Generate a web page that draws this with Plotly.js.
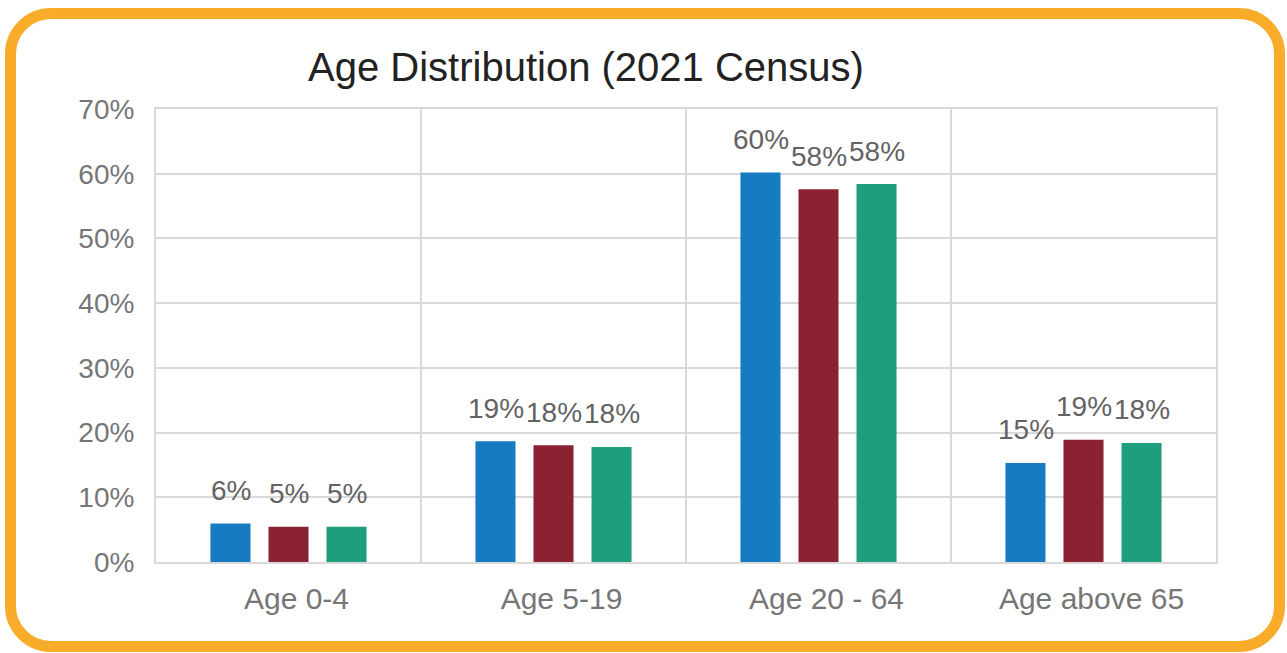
<!DOCTYPE html>
<html>
<head>
<meta charset="utf-8">
<script src="https://cdn.plot.ly/plotly-3.0.1.min.js"></script>
<style>
  body { margin: 0; background: #fff; }
  #chart { position: absolute; left: 0; top: 0; width: 1287px; height: 653px; }
  #frame {
    position: absolute; left: 5px; top: 8px; width: 1280px; height: 644px;
    box-sizing: border-box; border: 11px solid #F9AB2A; border-radius: 46px;
    pointer-events: none;
  }
</style>
</head>
<body>
<div id="chart"></div>
<div id="frame"></div>
<script>
// age groups and the three series (percent of population)
var ageGroups = ['Age 0-4', 'Age 5-19', 'Age 20 - 64', 'Age above 65'];
var seriesA = [5.96, 18.66, 60.2, 15.3];
var seriesB = [5.44, 18.04, 57.6, 18.9];
var seriesC = [5.44, 17.78, 58.4, 18.4];
var seriesColors = ['#167BC0', '#8B2232', '#1F9E7E'];
var yTicks = [0, 10, 20, 30, 40, 50, 60, 70];

var allSeries = [seriesA, seriesB, seriesC];

var data = allSeries.map(function (vals, i) {
    return {
        x: ageGroups,
        y: vals,
        type: 'bar',
        marker: {color: seriesColors[i]},
        hoverinfo: 'none'
    };
});

// data labels sit above each bar, shifted to the bar's slot in the group
var slot = 58;
var annotations = [];
allSeries.forEach(function (vals, i) {
    vals.forEach(function (v, j) {
        annotations.push({
            x: ageGroups[j], y: v, xref: 'x', yref: 'y',
            text: Math.round(v) + '%',
            showarrow: false,
            xshift: (i - 1) * slot,
            yshift: 33,
            yanchor: 'middle',
            font: {size: 28, color: '#636363', family: 'Liberation Sans, Arial, sans-serif'}
        });
    });
});

var layout = {
    width: 1287,
    height: 653,
    margin: {l: 156, r: 71, t: 109, b: 91},
    paper_bgcolor: 'rgba(0,0,0,0)',
    plot_bgcolor: '#fff',
    showlegend: false,
    barmode: 'group',
    bargap: 0.343,
    bargroupgap: 0.31,
    font: {family: 'Liberation Sans, Arial, sans-serif'},
    title: {
        text: 'Age Distribution (2021 Census)',
        font: {size: 40, color: '#222'},
        xref: 'container', yref: 'container',
        x: 0.4553, xanchor: 'center',
        y: 0.898, yanchor: 'middle'
    },
    xaxis: {
        type: 'category',
        tickson: 'boundaries',
        showgrid: true,
        gridcolor: '#d9d9d9',
        gridwidth: 2,
        showline: true,
        linecolor: '#d9d9d9',
        linewidth: 2,
        mirror: true,
        ticks: '',
        ticklabelstandoff: 9,
        ticklabelshift: 8,
        tickfont: {size: 30, color: '#767676'}
    },
    yaxis: {
        range: [0, 70],
        tickvals: yTicks,
        ticktext: yTicks.map(function (t) { return t + '%'; }),
        showgrid: true,
        gridcolor: '#d9d9d9',
        gridwidth: 2,
        zeroline: false,
        showline: true,
        linecolor: '#d9d9d9',
        linewidth: 2,
        mirror: true,
        ticks: '',
        ticklabelstandoff: 14,
        tickfont: {size: 28, color: '#767676'}
    },
    annotations: annotations
};

Plotly.newPlot('chart', data, layout, {displayModeBar: false, staticPlot: true});
</script>
</body>
</html>
